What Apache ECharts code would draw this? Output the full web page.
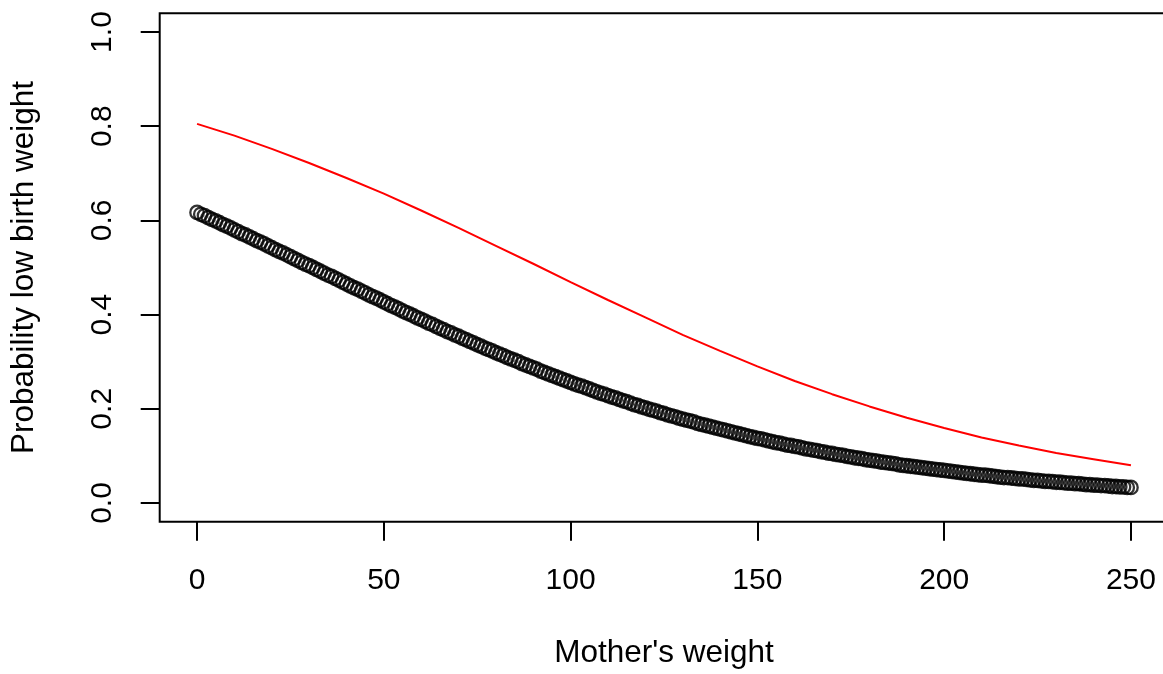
<!DOCTYPE html>
<html>
<head>
<meta charset="utf-8">
<script src="https://cdn.jsdelivr.net/npm/echarts@6/dist/echarts.min.js"></script>
<style>
  html, body { margin: 0; padding: 0; background: #fff; }
  #chart { width: 1163px; height: 674px; }
</style>
</head>
<body>
<div id="chart"></div>
<script>
// fitted probability, one value per unit of mother's weight (0..250)
var probFitted = [
  0.617, 0.613, 0.610, 0.606, 0.602, 0.599, 0.595, 0.591, 0.588, 0.584, 0.580,
  0.576, 0.572, 0.569, 0.565, 0.561, 0.557, 0.554, 0.550, 0.546, 0.542,
  0.538, 0.534, 0.531, 0.527, 0.523, 0.519, 0.515, 0.511, 0.507, 0.504,
  0.500, 0.496, 0.492, 0.488, 0.484, 0.481, 0.477, 0.473, 0.469, 0.465,
  0.461, 0.457, 0.454, 0.450, 0.446, 0.442, 0.438, 0.435, 0.431, 0.427,
  0.423, 0.419, 0.416, 0.412, 0.408, 0.404, 0.401, 0.397, 0.393, 0.390,
  0.386, 0.382, 0.379, 0.375, 0.371, 0.368, 0.364, 0.361, 0.357, 0.354,
  0.350, 0.347, 0.343, 0.340, 0.336, 0.333, 0.329, 0.326, 0.323, 0.319,
  0.316, 0.313, 0.309, 0.306, 0.303, 0.300, 0.296, 0.293, 0.290, 0.287,
  0.284, 0.280, 0.277, 0.274, 0.271, 0.268, 0.265, 0.262, 0.259, 0.256,
  0.253, 0.250, 0.248, 0.245, 0.242, 0.239, 0.236, 0.233, 0.231, 0.228,
  0.225, 0.223, 0.220, 0.217, 0.215, 0.212, 0.209, 0.207, 0.204, 0.202,
  0.199, 0.197, 0.195, 0.192, 0.190, 0.187, 0.185, 0.183, 0.180, 0.178,
  0.176, 0.174, 0.172, 0.169, 0.167, 0.165, 0.163, 0.161, 0.159, 0.157,
  0.155, 0.153, 0.151, 0.149, 0.147, 0.145, 0.143, 0.141, 0.139, 0.137,
  0.136, 0.134, 0.132, 0.130, 0.128, 0.127, 0.125, 0.123, 0.122, 0.120,
  0.119, 0.117, 0.115, 0.114, 0.112, 0.111, 0.109, 0.108, 0.106, 0.105,
  0.103, 0.102, 0.101, 0.099, 0.098, 0.096, 0.095, 0.094, 0.092, 0.091,
  0.090, 0.089, 0.087, 0.086, 0.085, 0.084, 0.083, 0.081, 0.080, 0.079,
  0.078, 0.077, 0.076, 0.075, 0.074, 0.073, 0.072, 0.071, 0.070, 0.069,
  0.068, 0.067, 0.066, 0.065, 0.064, 0.063, 0.062, 0.061, 0.060, 0.059,
  0.059, 0.058, 0.057, 0.056, 0.055, 0.054, 0.054, 0.053, 0.052, 0.051,
  0.051, 0.050, 0.049, 0.048, 0.048, 0.047, 0.046, 0.046, 0.045, 0.044,
  0.044, 0.043, 0.042, 0.042, 0.041, 0.041, 0.040, 0.039, 0.039, 0.038,
  0.038, 0.037, 0.037, 0.036, 0.035, 0.035, 0.034, 0.034, 0.033, 0.033
];

// red curve
var redWeights = [0, 10, 20, 30, 40, 50, 60, 70, 80, 90, 100, 110, 120,
  130, 140, 150, 160, 170, 180, 190, 200, 210, 220, 230, 240, 250];
var redProb = [0.805, 0.780, 0.752, 0.722, 0.690, 0.657, 0.621, 0.584, 0.546,
  0.508, 0.469, 0.431, 0.394, 0.357, 0.323, 0.290, 0.259, 0.231, 0.205,
  0.181, 0.159, 0.139, 0.122, 0.106, 0.093, 0.080];

var xTicks = [0, 50, 100, 150, 200, 250];
var yTicks = [0, 0.2, 0.4, 0.6, 0.8, 1.0];

var chart = echarts.init(document.getElementById('chart'));
var font = '"Liberation Sans", Arial, sans-serif';

var blackData = probFitted.map(function (p, i) { return [i, p]; });
var redData = redWeights.map(function (w, i) { return [w, redProb[i]]; });

chart.setOption({
  animation: false,
  textStyle: { fontFamily: font },
  grid: {
    left: 159.7, top: 13.2, width: 1008.6, height: 508.6,
    containLabel: false, outerBoundsMode: 'none',
    show: true, borderColor: '#000', borderWidth: 2
  },
  xAxis: {
    type: 'value', min: -10, max: 260,
    name: "Mother's weight", nameLocation: 'middle', nameGap: 116,
    nameTextStyle: { fontSize: 31.5, color: '#000', fontFamily: font },
    axisLine: { show: false, onZero: false },
    axisTick: { show: true, customValues: xTicks, length: 19, lineStyle: { color: '#000', width: 2 } },
    axisLabel: { customValues: xTicks, fontSize: 30, color: '#000', margin: 44, fontFamily: font },
    splitLine: { show: false }
  },
  yAxis: {
    type: 'value', min: -0.04, max: 1.04,
    name: 'Probability low birth weight', nameLocation: 'middle', nameGap: 119,
    nameTextStyle: { fontSize: 31.5, color: '#000', fontFamily: font },
    axisLine: { show: false, onZero: false },
    axisTick: { show: true, customValues: yTicks, length: 19, lineStyle: { color: '#000', width: 2 } },
    axisLabel: {
      customValues: yTicks, rotate: 90, fontSize: 30, color: '#000', margin: 42, fontFamily: font,
      formatter: function (v) { return v.toFixed(1); }
    },
    splitLine: { show: false }
  },
  series: [
    {
      name: 'fitted',
      type: 'scatter',
      data: blackData,
      symbol: 'circle',
      symbolSize: 13.5,
      itemStyle: { color: 'rgba(0,0,0,0)', borderColor: '#000', borderWidth: 2.3 },
      silent: true
    },
    {
      name: 'red',
      type: 'line',
      data: redData,
      showSymbol: false,
      lineStyle: { color: '#ff0000', width: 2 },
      silent: true
    }
  ]
});
</script>
</body>
</html>
